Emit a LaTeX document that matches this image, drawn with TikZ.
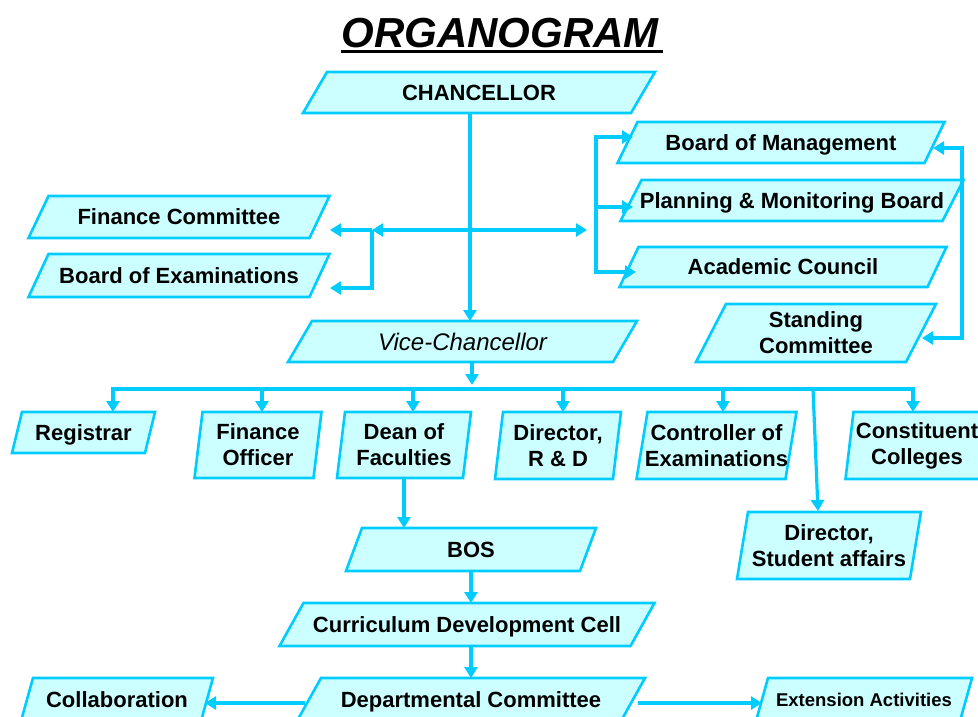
\documentclass[tikz,border=0pt]{standalone}
\usepackage{fontspec}
\setmainfont{Liberation Sans}
\usetikzlibrary{arrows.meta}
\definecolor{lc}{RGB}{0,204,255}
\definecolor{fc}{RGB}{204,255,255}
\tikzset{
  pbox/.style={draw=lc, fill=fc, line width=2.6pt, line join=miter},
  lbl/.style={inner sep=0pt, outer sep=0pt, align=center, text=black,
    font=\bfseries\fontsize{22}{26}\selectfont},
  sl/.style={text height=15.8pt, text depth=0pt},
  conn/.style={draw=lc, line width=3.2pt},
  arr/.style={conn, -{Triangle[length=11pt,width=13pt]}},
  darr/.style={conn, {Triangle[length=11pt,width=13pt]}-{Triangle[length=11pt,width=13pt]}},
}
% [node options] name, cx, cy, midline width, height, slant, text
\newcommand{\pgram}[8][]{%
  \path[pbox] ({#3-#5/2+#7/2},{#4-#6/2}) -- ({#3+#5/2+#7/2},{#4-#6/2})
     -- ({#3+#5/2-#7/2},{#4+#6/2}) -- ({#3-#5/2-#7/2},{#4+#6/2}) -- cycle;
  \node[lbl, minimum width=#5pt, minimum height=#6pt, #1] (#2) at (#3,#4) {#8};}
\begin{document}
\begin{tikzpicture}[x=1pt, y=-1pt]
\useasboundingbox (0,0) rectangle (978,716);
\fill[white] (0,0) rectangle (978,716);
\clip (0,0) rectangle (978,716);

% title
\node[font=\bfseries\itshape\fontsize{42}{46}\selectfont, anchor=base, inner sep=0pt] (title) at (500,47) {ORGANOGRAM};
\draw[line width=3pt] (341,51.5) -- (663,51.5);

% boxes
\pgram[sl]{chan}{479}{92.5}{328}{41}{24}{CHANCELLOR}
\pgram[sl]{bom}{781}{142.5}{307}{41}{20}{Board of Management}
\pgram[sl]{pmb}{792}{200.5}{322}{41}{21}{Planning \& Monitoring Board}
\pgram[sl]{ac}{783}{267}{308}{40}{19}{Academic Council}
\pgram{sc}{816}{333}{210}{58}{30}{Standing\\Committee}
\pgram[sl]{fin}{179}{217}{281}{42}{20}{Finance Committee}
\pgram[sl]{boe}{179}{275.5}{281}{43}{20}{Board of Examinations}
\pgram[text height=17.2pt, text depth=0pt]{vc}{462.5}{341.5}{325}{41}{24}{\mdseries\itshape\fontsize{24}{28}\selectfont Vice-Chancellor}
\pgram[sl]{reg}{83.5}{432.5}{133}{41}{10}{Registrar}
\pgram{fo}{258}{445}{119}{66}{8}{Finance\\Officer}
\pgram{dean}{404}{445}{126}{66}{8}{Dean of\\Faculties}
\pgram{rd}{558}{445.5}{118}{67}{8}{Director,\\R \& D}
\pgram{coe}{716.5}{445.5}{149}{67}{11}{Controller of\\Examinations}
\pgram{cc}{917}{445.5}{135}{67}{8}{Constituent\\Colleges}
\pgram{dsa}{829}{545.5}{173}{67}{11}{Director,\\Student affairs}
\pgram[sl]{bos}{471}{549.5}{234}{43}{16}{BOS}
\pgram[sl]{cdc}{467}{624.5}{351}{43}{24}{Curriculum Development Cell}
\pgram[sl]{dc}{471}{699.5}{324}{43}{24}{Departmental Committee}
\pgram[sl]{col}{117}{699.5}{180}{43}{12}{Collaboration}
\pgram[text height=13.3pt, text depth=0pt]{ext}{864}{699.5}{204}{43}{12}{\fontsize{18.5}{22}\selectfont Extension Activities}

% chancellor -> vice-chancellor
\coordinate (cx1) at (470,0);
\draw[arr] (cx1 |- chan.south) -- (cx1 |- vc.north);

% left branch
\coordinate (jL) at (372,230);
\coordinate (jR) at (587,230);
\coordinate (finA) at (330,230);
\coordinate (boeA) at (330,288);
\draw[darr] (jL) -- (jR);
\draw[arr] (jL) -- (finA);
\draw[arr] (jL) -- (jL |- boeA) -- (boeA);

% right boards
\coordinate (rb1) at (596,137);
\coordinate (rb2) at (596,207);
\coordinate (rb3) at (596,272);
\coordinate (bomA) at (633,137);
\coordinate (pmA) at (633,207);
\coordinate (acA) at (636,272);
\draw[darr] (bomA) -- (rb1) -- (rb3) -- (acA);
\draw[arr] (rb2) -- (pmA);

% board of management <-> standing committee
\coordinate (bomR) at (933,148);
\coordinate (rc1) at (962,148);
\coordinate (scR) at (922,338);
\draw[darr] (bomR) -- (rc1) -- (rc1 |- scR) -- (scR);

% vice-chancellor -> bus
\coordinate (vx) at (472,0);
\coordinate (busV) at (472,385);
\draw[arr] (vx |- vc.south) -- (busV);

% bus and drops
\coordinate (b1) at (113,389);
\coordinate (b2) at (262,389);
\coordinate (b3) at (413,389);
\coordinate (b4) at (563,389);
\coordinate (b5) at (723,389);
\coordinate (b6) at (813,389);
\coordinate (b7) at (913,389);
\coordinate (dsaA) at (818,511);
\draw[darr] (b1 |- reg.north) -- (b1) -- (b7) -- (b7 |- cc.north);
\draw[arr] (b2) -- (b2 |- fo.north);
\draw[arr] (b3) -- (b3 |- dean.north);
\draw[arr] (b4) -- (b4 |- rd.north);
\draw[arr] (b5) -- (b5 |- coe.north);
\draw[arr] (b6) -- (dsaA);

% lower chain
\draw[arr] (dean.south) -- (dean.south |- bos.north);
\coordinate (vx2) at (471,0);
\draw[arr] (vx2 |- bos.south) -- (vx2 |- cdc.north);
\draw[arr] (vx2 |- cdc.south) -- (vx2 |- dc.north);
\coordinate (dcL) at (305,703);
\coordinate (colA) at (205,703);
\coordinate (dcR) at (638,703);
\coordinate (extA) at (762,703);
\draw[arr] (dcL) -- (colA);
\draw[arr] (dcR) -- (extA);
\end{tikzpicture}
\end{document}
